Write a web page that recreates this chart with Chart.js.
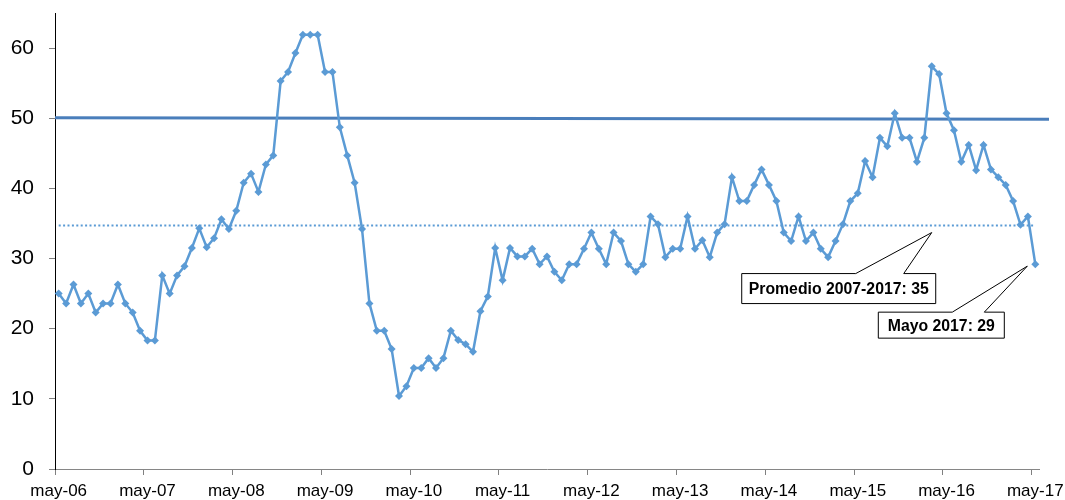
<!DOCTYPE html>
<html>
<head>
<meta charset="utf-8">
<script src="https://cdn.jsdelivr.net/npm/chart.js@4.4.1/dist/chart.umd.min.js"></script>
<style>
  html, body { margin: 0; padding: 0; background: #fff; }
  #wrap { width: 1065px; height: 500px; position: relative; }
</style>
</head>
<body>
<div id="wrap"><canvas id="chart"></canvas></div>
<script>
// monthly values, may-06 .. may-17 (one row per year)
const values = [
    25.0, 23.6, 26.3, 23.6, 25.0, 22.3, 23.6, 23.6, 26.3, 23.6, 22.3, 19.7,
    18.3, 18.3, 27.6, 25.0, 27.6, 28.9, 31.5, 34.3, 31.6, 32.9, 35.6, 34.2,
    36.8, 40.8, 42.1, 39.5, 43.4, 44.7, 55.3, 56.6, 59.3, 61.9, 61.9, 61.9,
    56.6, 56.6, 48.7, 44.7, 40.8, 34.2, 23.6, 19.7, 19.7, 17.1, 10.4, 11.8,
    14.4, 14.4, 15.8, 14.4, 15.8, 19.7, 18.4, 17.8, 16.7, 22.5, 24.6, 31.5,
    26.9, 31.5, 30.3, 30.3, 31.4, 29.2, 30.3, 28.1, 26.9, 29.2, 29.2, 31.4,
    33.7, 31.4, 29.2, 33.7, 32.5, 29.2, 28.1, 29.2, 36.0, 34.9, 30.2, 31.4,
    31.4, 36.0, 31.4, 32.6, 30.2, 33.7, 34.9, 41.6, 38.2, 38.2, 40.5, 42.7,
    40.5, 38.2, 33.7, 32.5, 36.0, 32.5, 33.7, 31.4, 30.2, 32.5, 34.9, 38.2,
    39.3, 43.9, 41.6, 47.2, 46.0, 50.7, 47.2, 47.2, 43.8, 47.2, 57.4, 56.3,
    50.7, 48.3, 43.8, 46.2, 42.6, 46.2, 42.7, 41.6, 40.5, 38.2, 34.8, 36.0,
    29.2
];
const yearLabels = ['may-06', 'may-07', 'may-08', 'may-09', 'may-10', 'may-11',
                    'may-12', 'may-13', 'may-14', 'may-15', 'may-16', 'may-17'];
const monthNames = ['may', 'jun', 'jul', 'ago', 'sep', 'oct', 'nov', 'dic', 'ene', 'feb', 'mar', 'abr'];
const averageValue = 34.7;
const referenceLevel = 50;
const avgText = 'Promedio 2007-2017: 35';
const lastText = 'Mayo 2017: 29';

// category per month
const categories = values.map(function (v, i) {
    const yr = 6 + Math.floor((i + 4) / 12);
    return monthNames[i % 12] + '-' + String(yr).padStart(2, '0');
});

// line at 50 (drawn past the plot) and the two callouts
const extras = {
    id: 'extras',
    beforeDatasetsDraw(chart) {
        const { ctx, chartArea, scales } = chart;
        const y = scales.y.getPixelForValue(referenceLevel);
        ctx.save();
        ctx.strokeStyle = '#4a7ebb';
        ctx.lineWidth = 3;
        ctx.beginPath();
        ctx.moveTo(chartArea.left, y - 0.5);
        ctx.lineTo(chartArea.right + 10, y + 1);
        ctx.stroke();
        ctx.restore();
    },
    afterDraw(chart) {
        const { ctx, scales } = chart;
        const last = values.length - 1;
        const tipA = { x: scales.x.getPixelForValue(118), y: scales.y.getPixelForValue(averageValue) + 7 };
        const tipB = { x: scales.x.getPixelForValue(last) - 8, y: scales.y.getPixelForValue(values[last]) + 2 };
        callout(ctx, avgText, tipA, { l: tipA.x - 190, t: tipA.y + 41, w: 194, h: 30, p1: tipA.x - 76, p2: tipA.x - 28 });
        callout(ctx, lastText, tipB, { l: tipB.x - 149, t: tipB.y + 46, w: 126, h: 26, p1: tipB.x - 75, p2: tipB.x - 43 });
    }
};

function callout(ctx, text, tip, b) {
    ctx.save();
    ctx.beginPath();
    ctx.moveTo(b.l, b.t);
    ctx.lineTo(b.p1, b.t);
    ctx.lineTo(tip.x, tip.y);
    ctx.lineTo(b.p2, b.t);
    ctx.lineTo(b.l + b.w, b.t);
    ctx.lineTo(b.l + b.w, b.t + b.h);
    ctx.lineTo(b.l, b.t + b.h);
    ctx.closePath();
    ctx.fillStyle = '#fff';
    ctx.fill();
    ctx.strokeStyle = '#000';
    ctx.lineWidth = 1;
    ctx.stroke();
    ctx.fillStyle = '#000';
    ctx.font = 'bold 15.8px "Liberation Sans", Arial, sans-serif';
    ctx.textAlign = 'center';
    ctx.textBaseline = 'middle';
    ctx.fillText(text, b.l + b.w / 2, b.t + b.h / 2 + 1);
    ctx.restore();
}

new Chart(document.getElementById('chart'), {
    type: 'line',
    data: {
        labels: categories,
        datasets: [{
            label: 'Índice',
            data: values,
            borderColor: '#5b9bd5',
            backgroundColor: '#5b9bd5',
            borderWidth: 2.5,
            pointStyle: 'rectRot',
            pointRadius: 4,
            pointBorderWidth: 0,
            tension: 0
        }, {
            label: 'Promedio',
            data: values.map(function () { return averageValue; }),
            borderColor: '#5b9bd5',
            borderWidth: 2,
            borderDash: [2, 2.4],
            pointRadius: 0,
            fill: false
        }]
    },
    options: {
        responsive: true,
        maintainAspectRatio: false,
        animation: false,
        layout: { padding: { left: 0, right: 26, top: 13, bottom: 0 } },
        plugins: {
            legend: { display: false },
            tooltip: { enabled: false }
        },
        scales: {
            x: {
                offset: true,
                afterFit: function (axis) { axis.paddingLeft = 0; axis.paddingRight = 0; axis.height = 31; },
                grid: {
                    offset: true,
                    drawOnChartArea: false,
                    tickLength: 6,
                    tickColor: function (c) { return c.index % 12 === 0 ? '#808080' : 'rgba(0,0,0,0)'; }
                },
                border: { color: '#868686', width: 1 },
                ticks: {
                    autoSkip: false,
                    maxRotation: 0,
                    padding: 6,
                    color: '#000',
                    font: { family: '"Liberation Sans", Arial, sans-serif', size: 17 },
                    callback: function (v, i) { return i % 12 === 0 ? yearLabels[i / 12] : ''; }
                }
            },
            y: {
                min: 0,
                max: 65,
                afterBuildTicks: function (axis) {
                    axis.ticks = axis.ticks.filter(function (t) { return t.value <= 60; });
                },
                afterFit: function (axis) { axis.width = 55; axis.paddingTop = 0; axis.paddingBottom = 0; },
                grid: { drawOnChartArea: false, tickLength: 6, tickColor: '#808080' },
                border: { color: '#000', width: 1 },
                ticks: {
                    stepSize: 10,
                    padding: 15,
                    color: '#000',
                    font: { family: '"Liberation Sans", Arial, sans-serif', size: 21 }
                }
            }
        }
    },
    plugins: [extras]
});
</script>
</body>
</html>
